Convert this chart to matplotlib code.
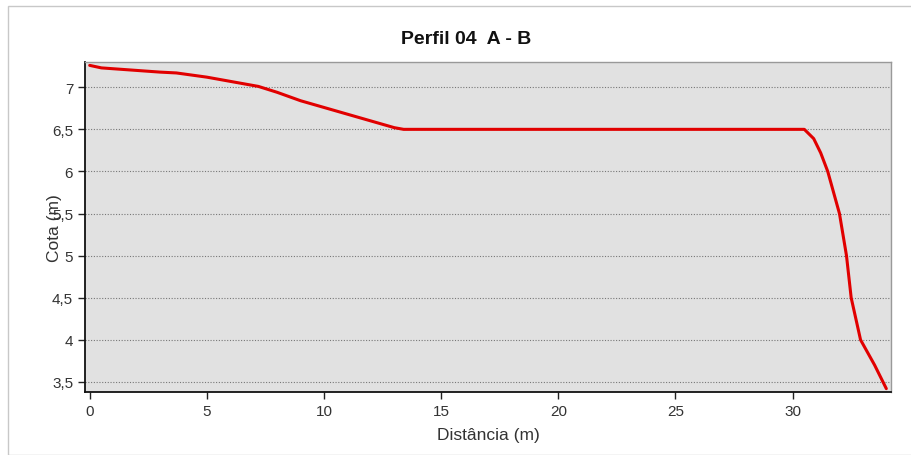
import matplotlib.pyplot as plt
from matplotlib.patches import Rectangle
from matplotlib.ticker import FuncFormatter

# Perfil topografico 04 (A - B)
distancia = [0.0, 0.5, 1.0, 2.0, 3.0, 3.7, 5.0, 6.0, 7.2, 8.0, 9.0, 10.0, 11.0, 12.0, 13.0, 13.4,
             20.0, 25.0, 30.5, 30.9, 31.2, 31.5, 32.0, 32.3, 32.5, 32.9, 33.5, 34.0]
cota = [7.26, 7.23, 7.22, 7.20, 7.18, 7.17, 7.12, 7.07, 7.01, 6.94, 6.84, 6.76, 6.68, 6.60, 6.52, 6.50,
        6.50, 6.50, 6.50, 6.39, 6.22, 6.00, 5.50, 5.00, 4.50, 4.00, 3.70, 3.42]
xticks = [0, 5, 10, 15, 20, 25, 30]
yticks = [3.5, 4, 4.5, 5, 5.5, 6, 6.5, 7]

plt.rcParams['font.family'] = ['Liberation Sans', 'DejaVu Sans']

fig = plt.figure(figsize=(9.12, 4.56), dpi=100)
fig.patches.append(Rectangle((8 / 912, 0), 1, 1 - 7 / 456, transform=fig.transFigure,
                             fill=False, ec='#c8c8c8', lw=1))
ax = fig.add_axes([85 / 912, 1 - 393 / 456, (891 - 85) / 912, (393 - 63) / 456])
ax.set_facecolor('#e1e1e1')

ax.plot(distancia, cota, color='#e10000', lw=2.2, solid_capstyle='round')

ax.set_xlim(-0.2, 34.2)
ax.set_ylim(3.38, 7.30)
ax.set_xticks(xticks)
ax.set_yticks(yticks)
fmt = FuncFormatter(lambda v, p: ('%g' % v).replace('.', ','))
ax.yaxis.set_major_formatter(fmt)
ax.tick_params(axis='both', direction='out', length=5, width=1, colors='#222222',
               labelsize=11, labelcolor='#333333')
ax.yaxis.grid(True, linestyle=(0, (1, 1.5)), color='#777777', lw=0.8)
ax.xaxis.grid(False)

for s in ['left', 'bottom']:
    ax.spines[s].set_color('#111111')
    ax.spines[s].set_linewidth(1.3)
for s in ['top', 'right']:
    ax.spines[s].set_color('#999999')
    ax.spines[s].set_linewidth(1)

fig.text(466 / 912, 1 - 40 / 456, 'Perfil 04  A - B', fontsize=14, fontweight='bold',
         ha='center', va='center', color='#111111')
ax.set_xlabel('Distância (m)', fontsize=12.5, color='#333333')
ax.xaxis.set_label_coords(0.5, -(436 - 393) / 330, transform=ax.transAxes)
ax.xaxis.label.set_va('center')
ax.set_ylabel('Cota (m)', fontsize=12.5, color='#333333')
ax.yaxis.set_label_coords(-(85 - 55) / 806, 0.5, transform=ax.transAxes)
ax.yaxis.label.set_va('center')

fig.savefig('out.png', dpi=100)
